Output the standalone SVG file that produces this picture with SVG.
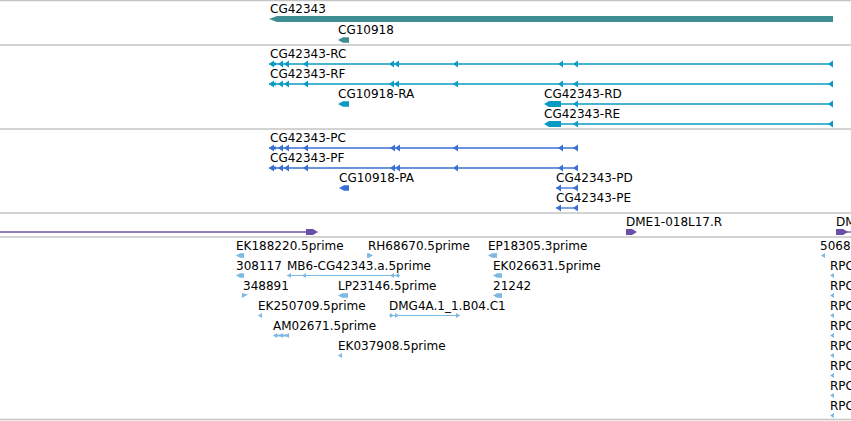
<svg xmlns="http://www.w3.org/2000/svg" xmlns:xlink="http://www.w3.org/1999/xlink" width="851" height="421" viewBox="0 0 851 421">
<style>
text{font-family:"DejaVu Sans","Liberation Sans",sans-serif;font-size:12px;fill:#000}
.sep{stroke:#c4c4c4;stroke-width:1.5;fill:none}
.gn{fill:#3e8d90}
.tx{fill:#0a9bc4}
.txl{stroke:#0a9bc4;stroke-width:1.3;fill:none}
.pr{fill:#3a70d4}
.prl{stroke:#3a70d4;stroke-width:1.3;fill:none}
.pu{fill:#6b4fa7}
.pul{stroke:#6b4fa7;stroke-width:1.3;fill:none}
.es{fill:#7db9e0}
.esl{stroke:#7db9e0;stroke-width:1.2;fill:none}
</style>
<defs>
<polygon id="al" points="0,0 5,-3.5 5,3.5"/>
<polygon id="ar" points="0,0 -5,-3.5 -5,3.5"/>
<polygon id="sl" points="0,0 4,-2.5 4,2.5"/>
<polygon id="sr" points="0,0 -4,-2.5 -4,2.5"/>
</defs>
<g id="separators">
<line class="sep" x1="0" y1="0.5" x2="851" y2="0.5"/>
<line class="sep" x1="0" y1="45" x2="851" y2="45"/>
<line class="sep" x1="0" y1="129" x2="851" y2="129"/>
<line class="sep" x1="0" y1="213" x2="851" y2="213"/>
<line class="sep" x1="0" y1="237" x2="851" y2="237"/>
<line class="sep" x1="0" y1="419.5" x2="851" y2="419.5"/>
</g>
<g id="connectors">
<line class="txl" x1="269" y1="64" x2="833" y2="64"/>
<line class="txl" x1="269" y1="84" x2="833" y2="84"/>
<line class="txl" x1="558" y1="104" x2="833" y2="104"/>
<line class="txl" x1="558" y1="124" x2="833" y2="124"/>
<line class="prl" x1="269" y1="148" x2="578" y2="148"/>
<line class="prl" x1="269" y1="168" x2="578" y2="168"/>
<line class="prl" x1="556" y1="188" x2="578" y2="188"/>
<line class="prl" x1="556" y1="208" x2="578" y2="208"/>
<line class="pul" x1="0" y1="232" x2="310" y2="232"/>
<line class="pul" x1="845" y1="232" x2="851" y2="232"/>
<line class="esl" x1="287" y1="275.5" x2="400" y2="275.5"/>
<line class="esl" x1="389" y1="315.5" x2="460" y2="315.5"/>
</g>
<g id="CG42343">
<text x="270" y="13">CG42343</text>
<polygon class="gn" points="269,19 277,16 833,16 833,22 277,22"/>
</g>
<g id="CG10918">
<text x="338" y="34">CG10918</text>
<polygon class="gn" points="338,40 343,37.3 349,37.3 349,42.7 343,42.7"/>
</g>
<g id="CG42343-RC" class="tx">
<text x="270" y="58">CG42343-RC</text>
<rect x="271" y="62.5" width="5" height="3"/>
<use xlink:href="#al" x="269" y="64"/><use xlink:href="#al" x="278" y="64"/><use xlink:href="#al" x="284" y="64"/><use xlink:href="#al" x="303" y="64"/><use xlink:href="#al" x="389" y="64"/><use xlink:href="#al" x="394" y="64"/><use xlink:href="#al" x="453" y="64"/><use xlink:href="#al" x="558" y="64"/><use xlink:href="#al" x="573" y="64"/><use xlink:href="#al" x="828" y="64"/>
</g>
<g id="CG42343-RF" class="tx">
<text x="270" y="78">CG42343-RF</text>
<rect x="271" y="82.5" width="5" height="3"/>
<use xlink:href="#al" x="269" y="84"/><use xlink:href="#al" x="278" y="84"/><use xlink:href="#al" x="284" y="84"/><use xlink:href="#al" x="303" y="84"/><use xlink:href="#al" x="389" y="84"/><use xlink:href="#al" x="394" y="84"/><use xlink:href="#al" x="453" y="84"/><use xlink:href="#al" x="558" y="84"/><use xlink:href="#al" x="573" y="84"/><use xlink:href="#al" x="828" y="84"/>
</g>
<g id="CG10918-RA" class="tx">
<text x="338" y="98">CG10918-RA</text>
<polygon points="338,104 343,101.3 349,101.3 349,106.7 343,106.7"/>
</g>
<g id="CG42343-RD" class="tx">
<text x="544" y="98">CG42343-RD</text>
<polygon points="544,104 549,101 561,101 561,107 549,107"/>
<use xlink:href="#al" x="573" y="104"/><use xlink:href="#al" x="828" y="104"/>
</g>
<g id="CG42343-RE" class="tx">
<text x="544" y="118">CG42343-RE</text>
<polygon points="544,124 549,121 561,121 561,127 549,127"/>
<use xlink:href="#al" x="573" y="124"/><use xlink:href="#al" x="828" y="124"/>
</g>
<g id="CG42343-PC" class="pr">
<text x="270" y="142">CG42343-PC</text>
<rect x="271" y="146.5" width="5" height="3"/>
<use xlink:href="#al" x="269" y="148"/><use xlink:href="#al" x="278" y="148"/><use xlink:href="#al" x="284" y="148"/><use xlink:href="#al" x="303" y="148"/><use xlink:href="#al" x="390" y="148"/><use xlink:href="#al" x="395" y="148"/><use xlink:href="#al" x="453" y="148"/><use xlink:href="#al" x="558" y="148"/><use xlink:href="#al" x="573" y="148"/>
</g>
<g id="CG42343-PF" class="pr">
<text x="270" y="162">CG42343-PF</text>
<rect x="271" y="166.5" width="5" height="3"/>
<use xlink:href="#al" x="269" y="168"/><use xlink:href="#al" x="278" y="168"/><use xlink:href="#al" x="284" y="168"/><use xlink:href="#al" x="303" y="168"/><use xlink:href="#al" x="390" y="168"/><use xlink:href="#al" x="395" y="168"/><use xlink:href="#al" x="453" y="168"/><use xlink:href="#al" x="558" y="168"/><use xlink:href="#al" x="573" y="168"/>
</g>
<g id="CG10918-PA" class="pr">
<text x="339" y="182">CG10918-PA</text>
<polygon points="339,188 344,185.3 349,185.3 349,190.7 344,190.7"/>
</g>
<g id="CG42343-PD" class="pr">
<text x="556" y="182">CG42343-PD</text>
<use xlink:href="#al" x="556" y="188"/><use xlink:href="#al" x="573" y="188"/>
</g>
<g id="CG42343-PE" class="pr">
<text x="556" y="202">CG42343-PE</text>
<use xlink:href="#al" x="556" y="208"/><use xlink:href="#al" x="573" y="208"/>
</g>
<g id="purple-left" class="pu">
<polygon points="318,232 313,229 306,229 306,235 313,235"/>
</g>
<g id="DME1-018L17.R" class="pu">
<text x="626" y="226">DME1-018L17.R</text>
<polygon points="637,232 632,229 626,229 626,235 632,235"/>
</g>
<g id="DM" class="pu">
<text x="836" y="226">DM</text>
<polygon points="848,232 843,229 836,229 836,235 843,235"/>
</g>
<g id="EK188220.5prime" class="es">
<text x="236" y="250">EK188220.5prime</text>
<polygon points="236,255.5 240,253.3 244,253.3 244,257.7 240,257.7"/>
</g>
<g id="RH68670.5prime" class="es">
<text x="368" y="250">RH68670.5prime</text>
<polygon points="373,255.5 369,253.3 367,253.3 367,257.7 369,257.7"/>
</g>
<g id="EP18305.3prime" class="es">
<text x="488" y="250">EP18305.3prime</text>
<polygon points="488,255.5 492,253.3 497,253.3 497,257.7 492,257.7"/>
</g>
<g id="n5068" class="es">
<text x="820" y="250">5068</text>
<use xlink:href="#sl" x="821" y="255.5"/>
</g>
<g id="n308117" class="es">
<text x="236" y="270">308117</text>
<polygon points="236,275.5 240,273.3 244,273.3 244,277.7 240,277.7"/>
</g>
<g id="MB6-CG42343.a.5prime" class="es">
<text x="287" y="270">MB6-CG42343.a.5prime</text>
<use xlink:href="#sl" x="287" y="275.5"/><use xlink:href="#sl" x="302" y="275.5"/><use xlink:href="#sl" x="390" y="275.5"/><use xlink:href="#sl" x="395" y="275.5"/>
</g>
<g id="EK026631.5prime" class="es">
<text x="493" y="270">EK026631.5prime</text>
<polygon points="493,275.5 497,273.3 502,273.3 502,277.7 497,277.7"/>
</g>
<g id="n348891" class="es">
<text x="243" y="290">348891</text>
<polygon points="242,293 248,294.5 242,298"/>
</g>
<g id="LP23146.5prime" class="es">
<text x="338" y="290">LP23146.5prime</text>
<polygon points="338,295.5 342,293.3 348,293.3 348,297.7 342,297.7"/>
</g>
<g id="n21242" class="es">
<text x="493" y="290">21242</text>
<polygon points="493,295.5 497,293.3 502,293.3 502,297.7 497,297.7"/>
</g>
<g id="EK250709.5prime" class="es">
<text x="258" y="310">EK250709.5prime</text>
<use xlink:href="#sl" x="258" y="315.5"/>
</g>
<g id="DMG4A.1_1.B04.C1" class="es">
<text x="389" y="310">DMG4A.1_1.B04.C1</text>
<use xlink:href="#sr" x="394" y="315.5"/><use xlink:href="#sr" x="399" y="315.5"/><use xlink:href="#sr" x="460" y="315.5"/>
</g>
<g id="AM02671.5prime" class="es">
<text x="273" y="330">AM02671.5prime</text>
<use xlink:href="#sl" x="273" y="335.5"/><use xlink:href="#sl" x="279" y="335.5"/><use xlink:href="#sl" x="285" y="335.5"/>
<rect x="276" y="334.5" width="12" height="2"/>
</g>
<g id="EK037908.5prime" class="es">
<text x="338" y="350">EK037908.5prime</text>
<use xlink:href="#sl" x="338" y="355.5"/>
</g>
<g id="RPC-1" class="es"><text x="830" y="270">RPC</text><use xlink:href="#sl" x="830" y="275.5"/></g>
<g id="RPC-2" class="es"><text x="830" y="290">RPC</text><use xlink:href="#sl" x="830" y="295.5"/></g>
<g id="RPC-3" class="es"><text x="830" y="310">RPC</text><use xlink:href="#sl" x="830" y="315.5"/></g>
<g id="RPC-4" class="es"><text x="830" y="330">RPC</text><use xlink:href="#sl" x="830" y="335.5"/></g>
<g id="RPC-5" class="es"><text x="830" y="350">RPC</text><use xlink:href="#sl" x="830" y="355.5"/></g>
<g id="RPC-6" class="es"><text x="830" y="370">RPC</text><use xlink:href="#sl" x="830" y="375.5"/></g>
<g id="RPC-7" class="es"><text x="830" y="390">RPC</text><use xlink:href="#sl" x="830" y="395.5"/></g>
<g id="RPC-8" class="es"><text x="830" y="410">RPC</text><use xlink:href="#sl" x="830" y="415.5"/></g>
</svg>
